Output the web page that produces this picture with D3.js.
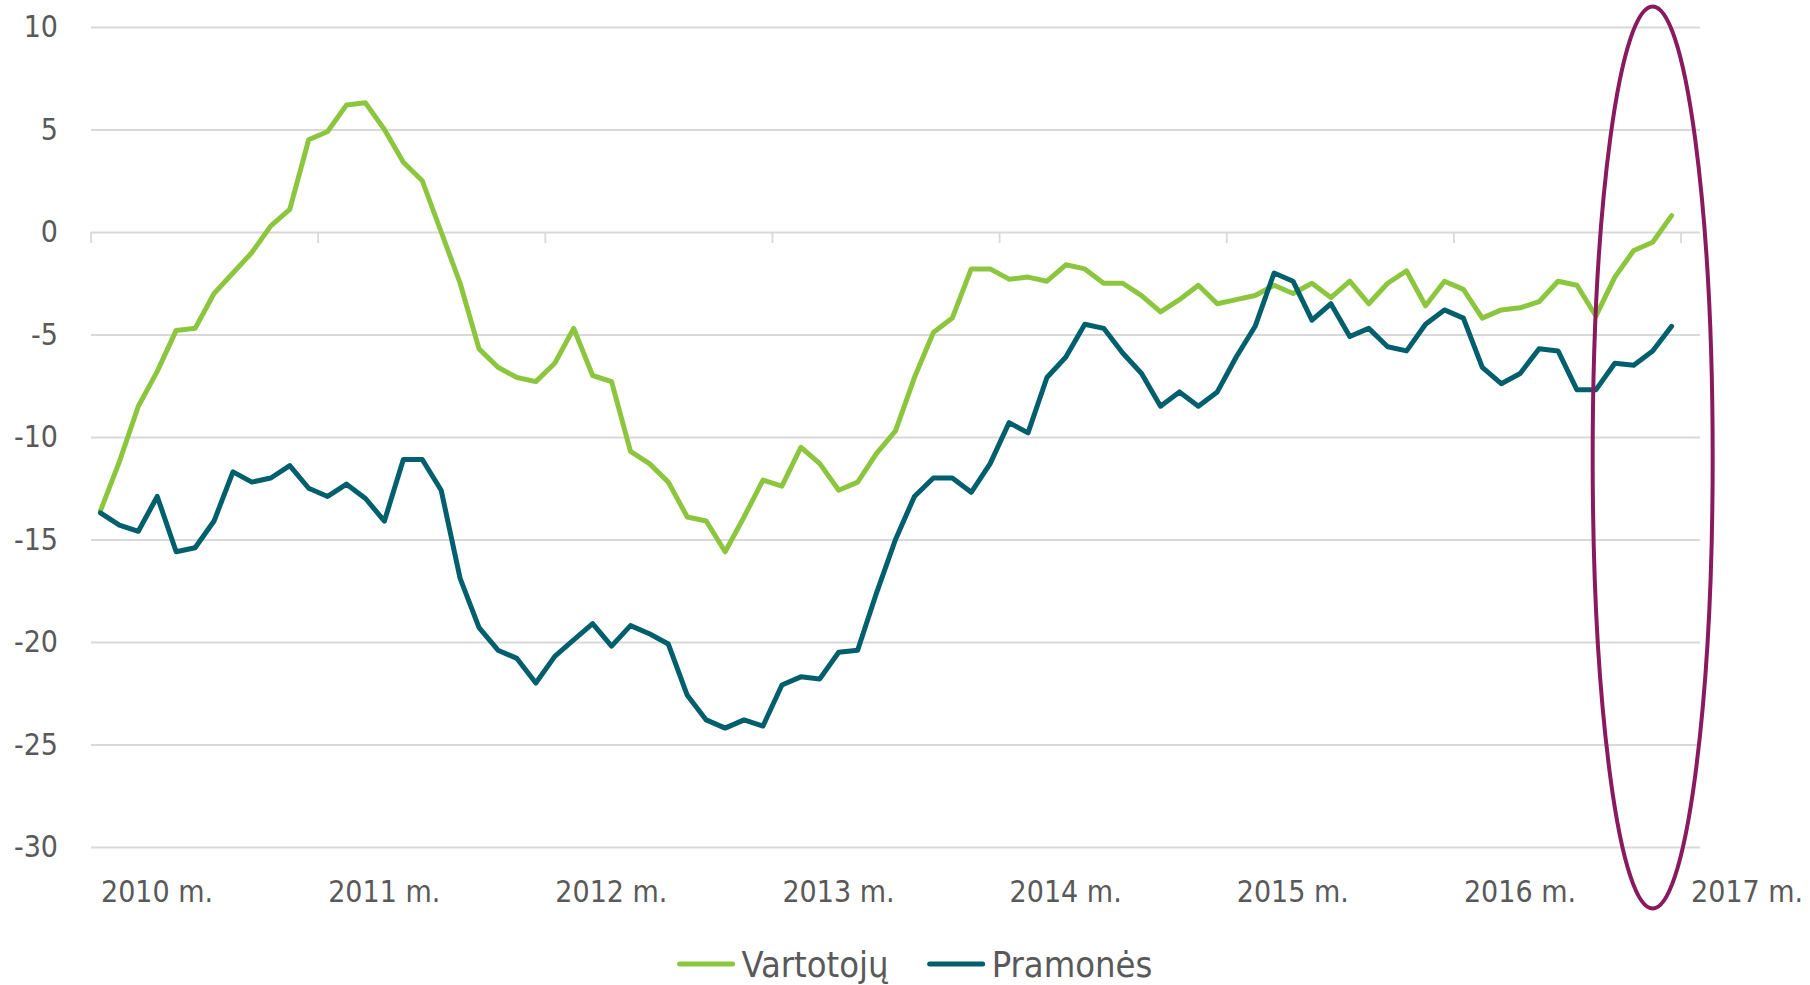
<!DOCTYPE html>
<html>
<head>
<meta charset="utf-8">
<script src="https://cdn.jsdelivr.net/npm/d3@7"></script>
<style>
  body { margin: 0; background: #fff; }
  text { font-family: "DejaVu Sans Condensed", "Liberation Sans Narrow", "Liberation Sans", sans-serif; fill: #595959; }
</style>
</head>
<body>
<div id="chart"></div>
<script>
// tick labels
var years = [2010, 2011, 2012, 2013, 2014, 2015, 2016, 2017];
var yearLabels = ["2010 m.", "2011 m.", "2012 m.", "2013 m.", "2014 m.", "2015 m.", "2016 m.", "2017 m."];
var yTicks = [10, 5, 0, -5, -10, -15, -20, -25, -30];

// monthly values, Jan 2010 - Dec 2016
var vartotoju = [
  -13.6, -11.2, -8.5, -6.8, -4.8, -4.7, -3.0, -2.0, -1.0, 0.3, 1.1, 4.5,
  4.9, 6.2, 6.3, 5.0, 3.4, 2.5, 0.0, -2.5, -5.7, -6.6, -7.1, -7.3,
  -6.4, -4.7, -7.0, -7.3, -10.7, -11.3, -12.2, -13.9, -14.1, -15.6, -13.9, -12.1,
  -12.4, -10.5, -11.3, -12.6, -12.2, -10.8, -9.7, -7.1, -4.9, -4.2, -1.8, -1.8,
  -2.3, -2.2, -2.4, -1.6, -1.8, -2.5, -2.5, -3.1, -3.9, -3.3, -2.6, -3.5,
  -3.3, -3.1, -2.6, -3.0, -2.5, -3.2, -2.4, -3.5, -2.5, -1.9, -3.6, -2.4,
  -2.8, -4.2, -3.8, -3.7, -3.4, -2.4, -2.6, -4.1, -2.2, -0.9, -0.5, 0.8
];
var pramones = [
  -13.7, -14.3, -14.6, -12.9, -15.6, -15.4, -14.1, -11.7, -12.2, -12.0, -11.4, -12.5,
  -12.9, -12.3, -13.0, -14.1, -11.1, -11.1, -12.6, -16.9, -19.3, -20.4, -20.8, -22.0,
  -20.7, -19.9, -19.1, -20.2, -19.2, -19.6, -20.1, -22.6, -23.8, -24.2, -23.8, -24.1,
  -22.1, -21.7, -21.8, -20.5, -20.4, -17.6, -15.0, -12.9, -12.0, -12.0, -12.7, -11.3,
  -9.3, -9.8, -7.1, -6.1, -4.5, -4.7, -5.9, -6.9, -8.5, -7.8, -8.5, -7.8,
  -6.1, -4.6, -2.0, -2.4, -4.3, -3.5, -5.1, -4.7, -5.6, -5.8, -4.5, -3.8,
  -4.2, -6.6, -7.4, -6.9, -5.7, -5.8, -7.7, -7.7, -6.4, -6.5, -5.8, -4.6
];
var seriesNames = ["Vartotojų", "Pramonės"];

// highlighted area (month, value range, half width in months)
var highlight = {month: "2016-11", top: 11, bottom: -33, halfMonths: 3.17};

// months on the axis: Jan 2010 - Jan 2017
var months = [];
years.forEach(function(yr) {
  d3.range(1, 13).forEach(function(m) { months.push(yr + "-" + m); });
});
months = months.slice(0, 85);

// set the dimensions and margins of the graph
var margin = {top: 27, right: 110, bottom: 138, left: 91},
    width = 1810 - margin.left - margin.right,
    height = 985 - margin.top - margin.bottom;

var colors = ["#8cc63f", "#005f6d"];

var svg = d3.select("#chart")
  .append("svg")
    .attr("width", 1810)
    .attr("height", 985);

var canvas = svg.append("g")
    .attr("transform", "translate(" + margin.left + "," + margin.top + ")");

var x = d3.scaleBand()
  .domain(months)
  .range([0, width]);

var y = d3.scaleLinear()
  .domain([-30, 10])
  .range([height, 0]);

// gridlines + y labels
var yAxis = canvas.append("g")
  .call(d3.axisLeft(y).tickValues(yTicks).tickSize(-width).tickPadding(33).tickFormat(function(d) { return String(d); }));
yAxis.select(".domain").remove();
yAxis.selectAll("line").attr("stroke", "#d9d9d9").attr("stroke-width", 1.8);
yAxis.selectAll("text")
  .style("font-size", "30px")
  .attr("fill", "#595959");

// year ticks on the zero line
canvas.selectAll(".yeartick")
  .data(years)
  .enter()
  .append("line")
    .attr("x1", function(d) { return x(d + "-1"); })
    .attr("x2", function(d) { return x(d + "-1"); })
    .attr("y1", y(0))
    .attr("y2", y(0) + 11)
    .attr("stroke", "#d9d9d9")
    .attr("stroke-width", 1.8);

// year labels
canvas.selectAll(".yearlabel")
  .data(years)
  .enter()
  .append("text")
    .attr("x", function(d) { return x(d + "-1") + 10; })
    .attr("y", height + 55)
    .style("font-size", "30px")
    .text(function(d, i) { return yearLabels[i]; });

// lines
var line = d3.line()
  .x(function(d, i) { return x(months[i]) + x.bandwidth() / 2; })
  .y(function(d) { return y(d); });

[vartotoju, pramones].forEach(function(s, k) {
  canvas.append("path")
    .datum(s)
    .attr("fill", "none")
    .attr("stroke", colors[k])
    .attr("stroke-width", 5)
    .attr("stroke-linejoin", "round")
    .attr("stroke-linecap", "round")
    .attr("d", line);
});

// highlight ellipse
canvas.append("ellipse")
  .attr("cx", x(highlight.month) + x.bandwidth() / 2)
  .attr("cy", (y(highlight.top) + y(highlight.bottom)) / 2)
  .attr("rx", highlight.halfMonths * x.bandwidth())
  .attr("ry", (y(highlight.bottom) - y(highlight.top)) / 2)
  .attr("fill", "none")
  .attr("stroke", "#8a1a5f")
  .attr("stroke-width", 4);

// legend
var legend = svg.append("g");
var lx = 0;
seriesNames.forEach(function(name, k) {
  legend.append("line")
    .attr("x1", lx + 2).attr("x2", lx + 55)
    .attr("y1", 0).attr("y2", 0)
    .attr("stroke", colors[k])
    .attr("stroke-width", 5)
    .attr("stroke-linecap", "round");
  var t = legend.append("text")
    .attr("x", lx + 64)
    .attr("y", 13)
    .style("font-size", "36px")
    .text(name);
  lx += 64 + t.node().getComputedTextLength() + 39;
});
lx -= 39;
legend.attr("transform", "translate(" + (915 - lx / 2) + ",964)");
</script>
</body>
</html>
